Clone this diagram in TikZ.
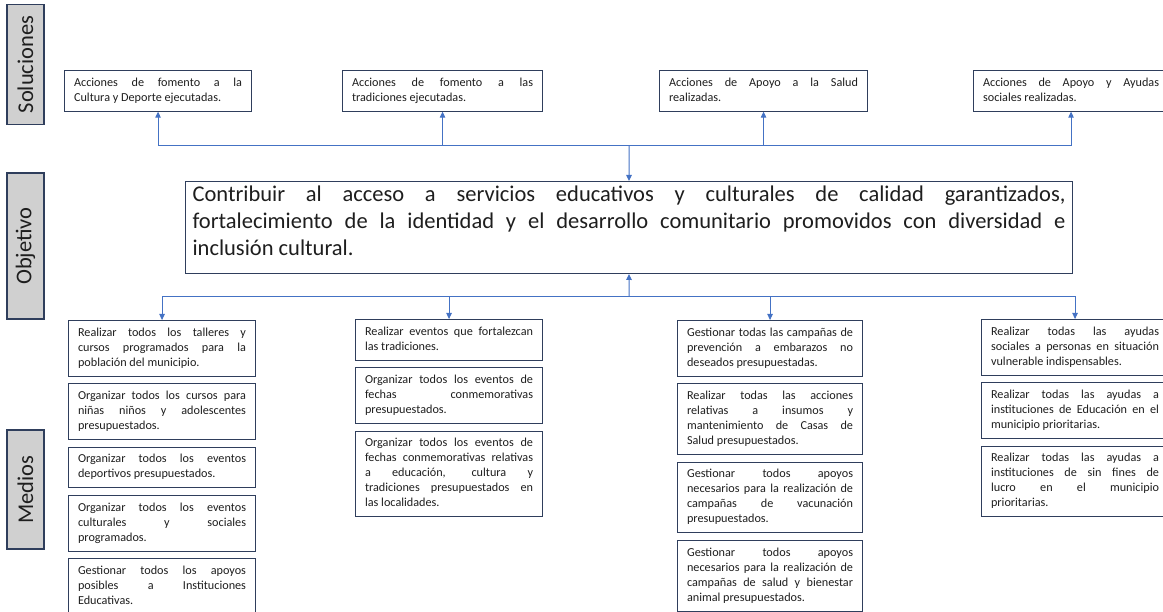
\documentclass[tikz,border=0pt]{standalone}
\usepackage{fontspec}
\setmainfont{Carlito}
\usetikzlibrary{arrows.meta,positioning}
\definecolor{boxline}{RGB}{47,62,92}
\definecolor{linkblue}{RGB}{68,114,196}
\definecolor{labgray}{RGB}{208,208,208}
\definecolor{inkdark}{RGB}{30,30,30}
\tolerance=10000
\hyphenpenalty=10000
\tikzset{
  lado/.style={draw=boxline,line width=1.2pt,fill=labgray,rotate=90,
    minimum height=37pt,inner sep=0pt,text=inkdark,
    font=\fontsize{22.5}{27}\selectfont},
  caja/.style={draw=boxline,line width=1.1pt,align=justify,
    inner xsep=9.5pt,inner ysep=5.3pt,text=inkdark,
    font=\fontsize{12.2}{15}\selectfont,
    execute at begin node=\strut,execute at end node=\strut},
  objbox/.style={draw=boxline,line width=1.1pt,align=justify,text width=873pt,
    inner xsep=7pt,inner ysep=1pt,text=inkdark,
    font=\fontsize{22.5}{27}\selectfont,
    execute at begin node=\strut,
    execute at end node={\rule[-17pt]{0pt}{17pt}}},
  flecha/.style={-{Triangle[length=6pt,width=5.5pt]},line width=1pt,draw=linkblue}
}

\begin{document}
\begin{tikzpicture}[x=1pt,y=-1pt,node distance=6.6pt]
  \useasboundingbox (0,0) rectangle (1163,612);
  \node[lado,minimum width=120pt] (sol) at (25.5,64.5) {Soluciones};
  \node[lado,minimum width=146pt] (obj) at (25.5,246) {Objetivo};
  \node[lado,minimum width=119pt] (med) at (25.5,489.5) {Medios};
  \node[caja,anchor=north west,text width=168pt] (s1) at (64,70)
    {Acciones de fomento a la\linebreak Cultura y Deporte ejecutadas.};
  \node[caja,anchor=north west,text width=181pt] (s2) at (342,70)
    {Acciones de fomento a las\linebreak tradiciones ejecutadas.};
  \node[caja,anchor=north west,text width=189pt] (s3) at (659,70)
    {Acciones de Apoyo a la Salud\linebreak realizadas.};
  \node[caja,anchor=north west,text width=176pt] (s4) at (973,70)
    {Acciones de Apoyo y Ayudas\linebreak sociales realizadas.};
  \node[objbox,anchor=north west] (p) at (185,181)
    {Contribuir al acceso a servicios educativos y culturales de calidad garantizados,\linebreak
     fortalecimiento de la identidad y el desarrollo comunitario promovidos con diversidad e\linebreak
     inclusión cultural.};
  \node[caja,anchor=north west,text width=168pt] (m1a) at (68,320)
    {Realizar todos los talleres y\linebreak cursos programados para la\linebreak población del municipio.};
  \node[caja,text width=168pt,below=of m1a] (m1b)
    {Organizar todos los cursos para\linebreak niñas niños y adolescentes\linebreak presupuestados.};
  \node[caja,text width=168pt,below=of m1b] (m1c)
    {Organizar todos los eventos\linebreak deportivos presupuestados.};
  \node[caja,text width=168pt,below=of m1c] (m1d)
    {Organizar todos los eventos\linebreak culturales y sociales\linebreak programados.};
  \node[caja,text width=168pt,below=of m1d] (m1e)
    {Gestionar todos los apoyos\linebreak posibles a Instituciones\linebreak Educativas.};
  \node[caja,anchor=north west,text width=168pt] (m2a) at (355,319)
    {Realizar eventos que fortalezcan\linebreak las tradiciones.};
  \node[caja,text width=168pt,below=of m2a] (m2b)
    {Organizar todos los eventos de\linebreak fechas conmemorativas\linebreak presupuestados.};
  \node[caja,text width=168pt,below=of m2b] (m2c)
    {Organizar todos los eventos de\linebreak fechas conmemorativas relativas\linebreak a educación, cultura y\linebreak tradiciones presupuestados en\linebreak las localidades.};
  \node[caja,anchor=north west,text width=166pt] (m3a) at (677,320)
    {Gestionar todas las campañas de\linebreak prevención a embarazos no\linebreak deseados presupuestadas.};
  \node[caja,text width=166pt,below=of m3a] (m3b)
    {Realizar todas las acciones\linebreak relativas a insumos y\linebreak mantenimiento de Casas de\linebreak Salud presupuestados.};
  \node[caja,text width=166pt,below=of m3b] (m3c)
    {Gestionar todos apoyos\linebreak necesarios para la realización de\linebreak campañas de vacunación\linebreak presupuestados.};
  \node[caja,text width=166pt,below=of m3c] (m3d)
    {Gestionar todos apoyos\linebreak necesarios para la realización de\linebreak campañas de salud y bienestar\linebreak animal presupuestados.};
  \node[caja,anchor=north west,text width=168pt] (m4a) at (981,319)
    {Realizar todas las ayudas\linebreak sociales a personas en situación\linebreak vulnerable indispensables.};
  \node[caja,text width=168pt,below=of m4a] (m4b)
    {Realizar todas las ayudas a\linebreak instituciones de Educación en el\linebreak municipio prioritarias.};
  \node[caja,text width=168pt,below=of m4b] (m4c)
    {Realizar todas las ayudas a\linebreak instituciones de sin fines de\linebreak lucro en el municipio\linebreak prioritarias.};
  \coordinate (up) at (629,146);
  \coordinate (dn) at (629,297);
  \draw[flecha] (up) -- (p);
  \draw[flecha] (up) -| (s1);
  \draw[flecha] (up) -| (s2);
  \draw[flecha] (up) -| (s3);
  \draw[flecha] (up) -| (s4);
  \draw[flecha] (dn) -- (p);
  \draw[flecha] (dn) -| (m1a);
  \draw[flecha] (dn) -| (m2a);
  \draw[flecha] (dn) -| (m3a);
  \draw[flecha] (dn) -| (m4a);
\end{tikzpicture}
\end{document}
